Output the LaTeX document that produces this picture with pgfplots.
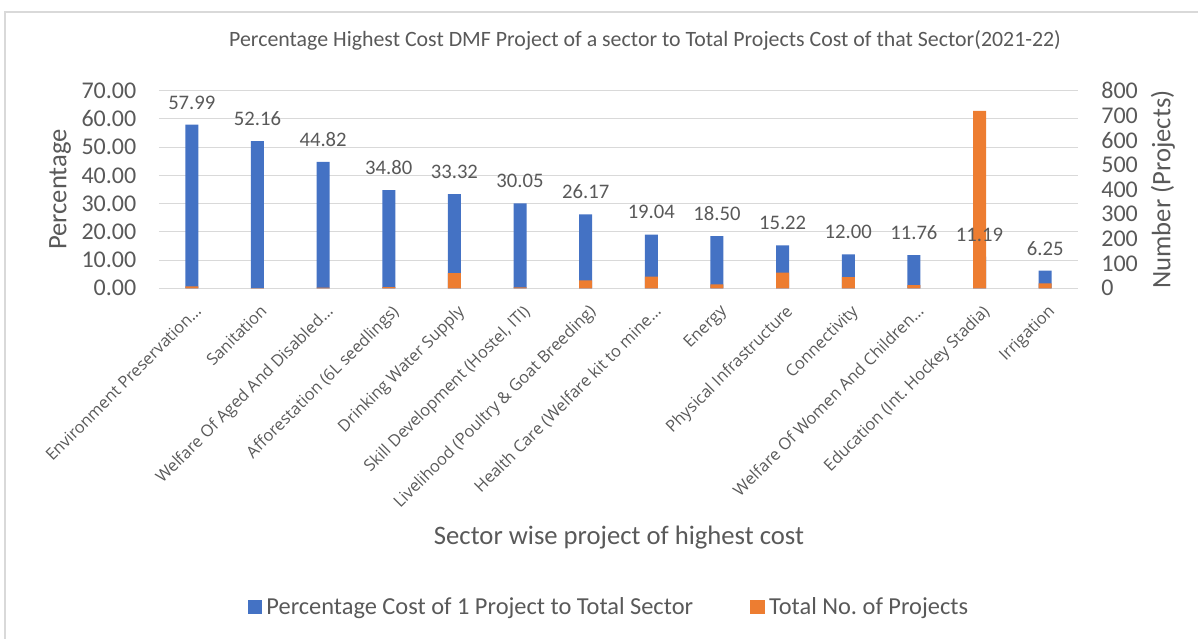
\documentclass[border=0pt]{standalone}
\usepackage{pgfplots}
\pgfplotsset{compat=1.18}
\usepackage{fontspec}
\setmainfont{Carlito}
\newfontfamily\tickfont{Open Sans}
\definecolor{cblue}{HTML}{4472C4}
\definecolor{corange}{HTML}{ED7D31}
\definecolor{tgray}{HTML}{595959}
\definecolor{ggray}{HTML}{D9D9D9}
\pgfplotsset{
  base/.style={
    scale only axis, width=689.25pt, height=148.2pt,
    at={(0,0)}, anchor=south west,
    xmin=-0.5, xmax=13.5,
    /pgf/number format/assume math mode=true,
    tick style={draw=none},
    ybar, bar width=9.75pt,
  }
}
\frenchspacing
\begin{document}
\begin{tikzpicture}
\useasboundingbox (-119.25pt,-263pt) rectangle (779.25pt,216.2pt);
\draw[ggray, line width=0.8pt] (-115.5pt,-263pt) -- (-115.5pt,207.2pt) -- (779.25pt,207.2pt);
\begin{axis}[base,
  ymin=0, ymax=70, ytick={0,10,20,30,40,50,60,70},
  yticklabel style={font=\fontsize{18}{20}\selectfont, color=tgray, anchor=east, xshift=-13.5pt, /pgf/number format/.cd, fixed, zerofill, precision=2},
  ymajorgrids, grid style={ggray, line width=0.8pt},
  axis line style={draw=none},
  xtick={0,1,2,3,4,5,6,7,8,9,10,11,12,13},
  xticklabels={{Environment Preservation…}, {Sanitation}, {Welfare Of Aged And Disabled…}, {Afforestation (6L seedlings)}, {Drinking Water Supply}, {Skill Development (Hostel, ITI)}, {Livelihood (Poultry \& Goat Breeding)}, {Health Care (Welfare kit to mine…}, {Energy}, {Physical Infrastructure}, {Connectivity}, {Welfare Of Women And Children…}, {Education (Int. Hockey Stadia)}, {Irrigation}},
  xticklabel style={font=\tickfont\fontsize{12.3}{14}\selectfont, color=tgray, rotate=45, anchor=north east, inner sep=1pt, xshift=-3pt, yshift=-5pt},
  ylabel={Percentage},
  ylabel style={at={(axis description cs:-0.1077,0.5)}, anchor=center, font=\fontsize{20}{22}\selectfont, color=tgray},
]
\addplot[fill=cblue, draw=none] coordinates {(0,57.99) (1,52.16) (2,44.82) (3,34.80) (4,33.32) (5,30.05) (6,26.17) (7,19.04) (8,18.50) (9,15.22) (10,12.00) (11,11.76) (12,11.19) (13,6.25)};
\end{axis}
\begin{axis}[base,
  ymin=0, ymax=800, ytick={0,100,200,300,400,500,600,700,800},
  axis x line=none, axis y line*=right, axis line style={draw=none},
  yticklabel style={font=\fontsize{18}{20}\selectfont, color=tgray, anchor=west, xshift=14pt},
  ylabel={Number (Projects)},
  ylabel style={at={(axis description cs:1.0925,0.5)}, anchor=center, rotate=0, font=\fontsize{20}{22}\selectfont, color=tgray},
  legend style={at={(axis description cs:0.4907,-1.613)}, anchor=center, draw=none, fill=none, legend columns=2,
    font=\fontsize{18.3}{20}\selectfont, text=tgray,
    nodes={inner xsep=3pt},
    /tikz/every even column/.style={column sep=40pt}},
  legend image code/.code={\fill[#1] (-1pt,-5.5pt) rectangle (10pt,5.5pt);},
]
\addlegendimage{fill=cblue, draw=none}
\addlegendentry{Percentage Cost of 1 Project to Total Sector}
\addplot[fill=corange, draw=none] coordinates {(0,8) (1,1) (2,3) (3,5) (4,61) (5,4) (6,32) (7,47) (8,16) (9,63) (10,45) (11,13) (12,718) (13,20)};
\addlegendentry{Total No. of Projects}
\end{axis}
\begin{axis}[base, hide axis, ymin=0, ymax=70,
  nodes near coords,
  every node near coord/.append style={font=\fontsize{15.5}{17}\selectfont, color=tgray, anchor=south, yshift=8pt, /pgf/number format/.cd, fixed, zerofill, precision=2},
]
\addplot[fill=none, draw=none] coordinates {(0,57.99) (1,52.16) (2,44.82) (3,34.80) (4,33.32) (5,30.05) (6,26.17) (7,19.04) (8,18.50) (9,15.22) (10,12.00) (11,11.76) (12,11.19) (13,6.25)};
\end{axis}
\node[font=\fontsize{16.4}{18}\selectfont, color=tgray] at (364.5pt,186.2pt) {Percentage Highest Cost DMF Project of a sector to Total Projects Cost of that Sector(2021-22)};
\node[font=\fontsize{20}{22}\selectfont, color=tgray] at (345pt,-187.3pt) {Sector wise project of highest cost};
\end{tikzpicture}
\end{document}
